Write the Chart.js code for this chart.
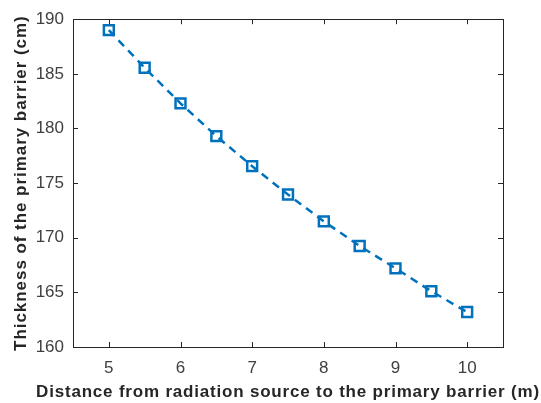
<!DOCTYPE html>
<html>
<head>
<meta charset="utf-8">
<script src="https://cdn.jsdelivr.net/npm/chart.js@4/dist/chart.umd.min.js"></script>
<style>
html,body{margin:0;padding:0;background:#fff;}
#wrap{width:541px;height:403px;}
</style>
</head>
<body>
<div id="wrap"><canvas id="c" width="541" height="403"></canvas></div>
<script>
const distances = [5, 5.5, 6, 6.5, 7, 7.5, 8, 8.5, 9, 9.5, 10];
const thickness = [189.0, 185.55, 182.3, 179.3, 176.55, 173.95, 171.5, 169.25, 167.2, 165.1, 163.2];
const xTicks = [5, 6, 7, 8, 9, 10];
const yTicks = [160, 165, 170, 175, 180, 185, 190];
const xTitle = 'Distance from radiation source to the primary barrier (m)';
const yTitle = 'Thickness of the primary barrier (cm)';

// Let the axis titles run wider than the plot box (as in the reference) and space the letters a bit.
function spacedTitle(s, spacing) {
  if (s._spaced) return;
  const orig = s.drawTitle.bind(s);
  s.drawTitle = function () {
    const ctx = this.ctx;
    const horiz = this.isHorizontal();
    const saved = horiz ? [this.left, this.right] : [this.top, this.bottom];
    if (horiz) { this.left -= 200; this.right += 200; }
    else { this.top -= 200; this.bottom += 200; }
    ctx.save();
    ctx.letterSpacing = spacing;
    orig();
    ctx.restore();
    if (horiz) { this.left = saved[0]; this.right = saved[1]; }
    else { this.top = saved[0]; this.bottom = saved[1]; }
  };
  s._spaced = true;
}

const boxPlugin = {
  id: 'box',
  afterDraw(chart) {
    const {ctx, chartArea: a, scales} = chart;
    ctx.save();
    ctx.strokeStyle = '#262626';
    ctx.lineWidth = 1;
    const L = 5;
    ctx.beginPath();
    scales.x.ticks.forEach(t => {
      const px = Math.round(scales.x.getPixelForValue(t.value)) + 0.5;
      ctx.moveTo(px, a.bottom); ctx.lineTo(px, a.bottom - L);
      ctx.moveTo(px, a.top); ctx.lineTo(px, a.top + L);
    });
    scales.y.ticks.forEach(t => {
      const py = Math.round(scales.y.getPixelForValue(t.value)) + 0.5;
      ctx.moveTo(a.left, py); ctx.lineTo(a.left + L, py);
      ctx.moveTo(a.right, py); ctx.lineTo(a.right - L, py);
    });
    ctx.stroke();
    ctx.strokeRect(Math.round(a.left) + 0.5, Math.round(a.top) + 0.5, Math.round(a.right - a.left), Math.round(a.bottom - a.top));
    ctx.restore();
  }
};

new Chart(document.getElementById('c'), {
  type: 'line',
  data: {
    datasets: [{
      data: distances.map((d, i) => ({x: d, y: thickness[i]})),
      borderColor: '#0072BD',
      borderWidth: 2.5,
      borderDash: [8, 6],
      pointStyle: 'rect',
      pointRadius: 7,
      pointBorderWidth: 2.5,
      pointBorderColor: '#0072BD',
      pointBackgroundColor: 'rgba(0,0,0,0)',
      tension: 0,
      fill: false
    }]
  },
  options: {
    responsive: false,
    animation: false,
    devicePixelRatio: 1,
    layout: {padding: {top: 18, right: 38, left: 0, bottom: 0}},
    plugins: {legend: {display: false}, tooltip: {enabled: false}},
    scales: {
      x: {
        type: 'linear',
        min: 4.5, max: 10.5,
        afterBuildTicks(s) { s.ticks = xTicks.map(v => ({value: v})); },
        afterFit(s) { s.height = 56; spacedTitle(s, '0.8px'); },
        grid: {display: false, drawTicks: false},
        border: {display: false},
        ticks: {color: '#404040', font: {family: 'Liberation Sans', size: 17}, padding: 11, maxRotation: 0},
        title: {display: true, text: xTitle, color: '#262626', font: {family: 'Liberation Sans', size: 17, weight: 'bold'}, padding: {top: 4, bottom: 0}}
      },
      y: {
        type: 'linear',
        min: 160, max: 190,
        afterBuildTicks(s) { s.ticks = yTicks.map(v => ({value: v})); },
        afterFit(s) { s.width = 73; spacedTitle(s, '0.95px'); },
        grid: {display: false, drawTicks: false},
        border: {display: false},
        ticks: {color: '#404040', font: {family: 'Liberation Sans', size: 17}, padding: 9},
        title: {display: true, text: yTitle, color: '#262626', font: {family: 'Liberation Sans', size: 17, weight: 'bold'}, padding: {top: 11, bottom: 4}}
      }
    }
  },
  plugins: [boxPlugin]
});
</script>
</body>
</html>
